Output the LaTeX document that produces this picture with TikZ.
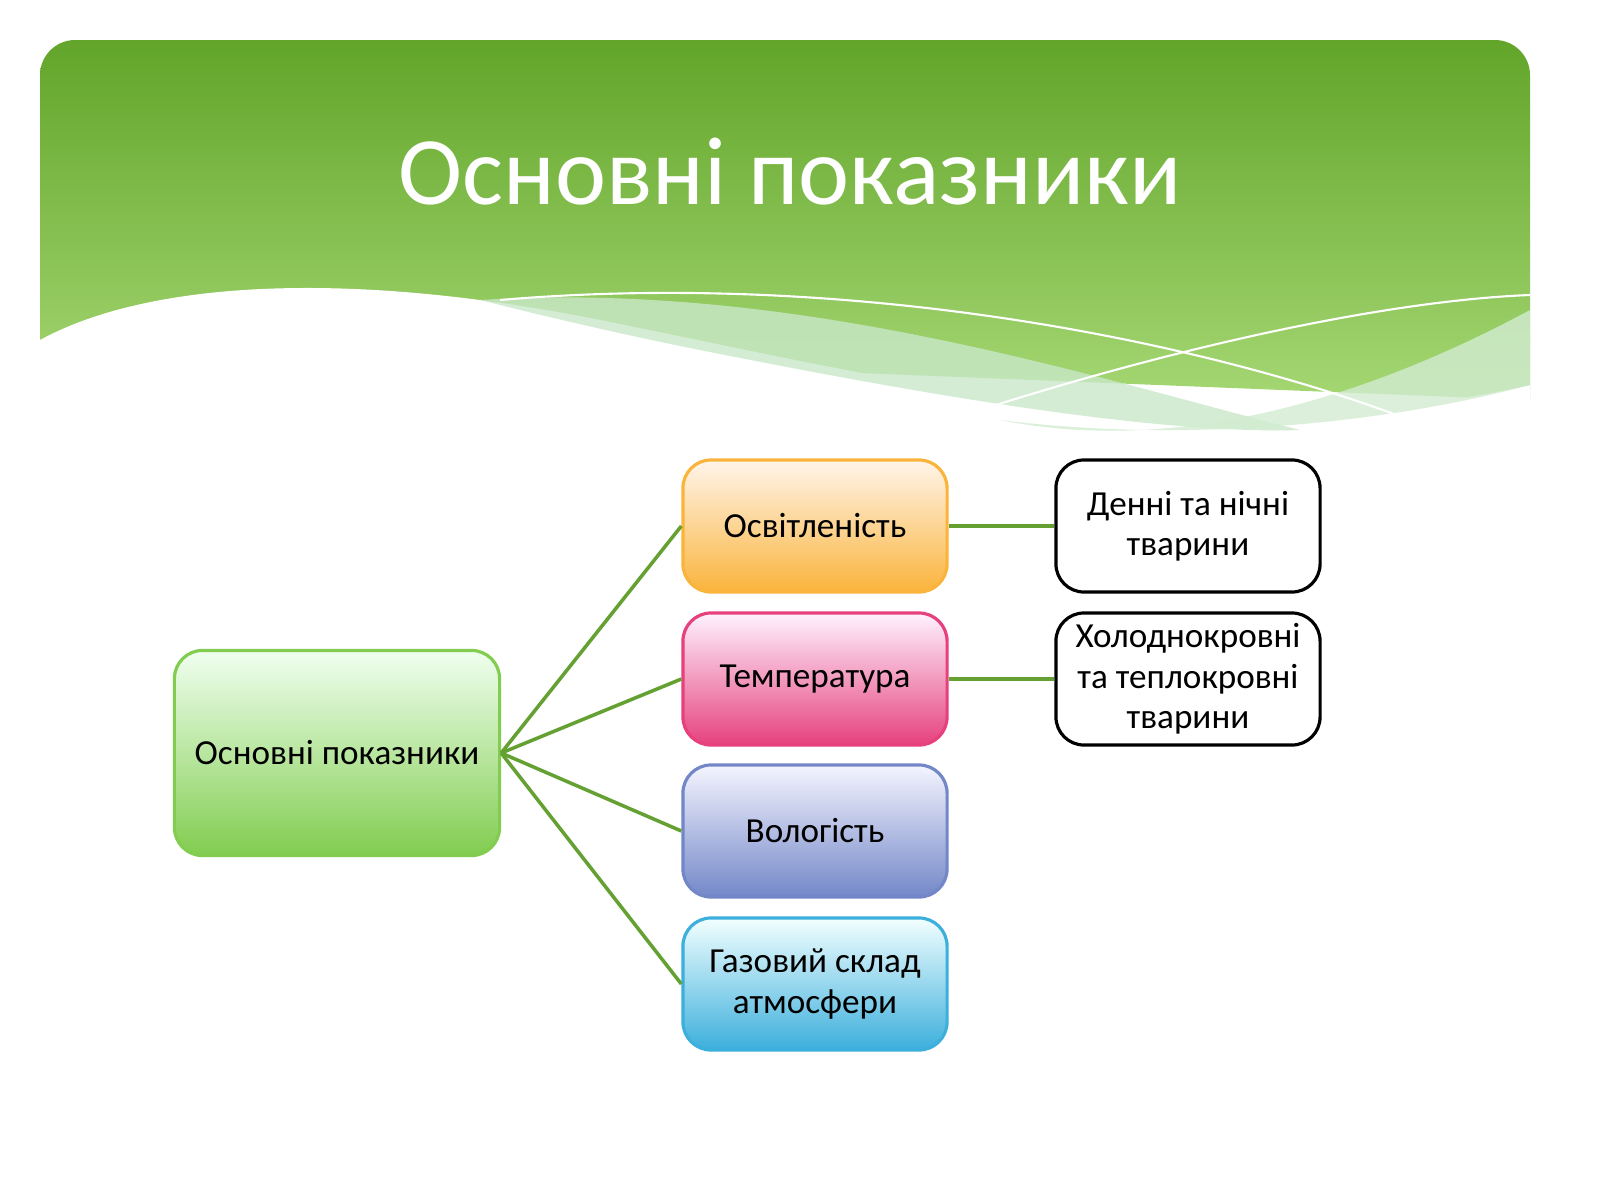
\documentclass[tikz,border=0pt]{standalone}
\usepackage{fontspec}
\setmainfont{Carlito}
\definecolor{hdtop}{RGB}{98,165,42}
\definecolor{hdbot}{RGB}{165,215,115}
\definecolor{ln}{RGB}{100,160,50}
\definecolor{orb}{RGB}{250,180,60}
\definecolor{mgb}{RGB}{230,65,125}
\definecolor{blb}{RGB}{115,135,200}
\definecolor{cyb}{RGB}{60,175,220}
\definecolor{grb}{RGB}{130,205,80}
\begin{document}
\begin{tikzpicture}[x=0.01cm,y=-0.01cm,
  bx/.style={rounded corners=8pt,line width=0.9pt,align=center,font=\fontsize{10pt}{11.5pt}\selectfont,inner sep=0pt,minimum width=2.64cm,minimum height=1.32cm},
  cn/.style={draw=ln,line width=1pt}]
\useasboundingbox (0,0) rectangle (1600,1200);
\fill[white] (0,0) rectangle (1600,1200);
% header
\shade[top color=hdtop, bottom color=hdbot]
  [rounded corners=10pt] (40,340) -- (40,40) -- (1530,40) [sharp corners]-- (1530,400) -- cycle;
\fill[white] (40,340) .. controls (150,280) and (350,270) .. (600,320)
  .. controls (900,380) and (1200,460) .. (1530,385) -- (1530,1200) -- (40,1200) -- cycle;
\fill[green!40!gray!30!white,opacity=0.8] (480,300) .. controls (800,280) and (1100,380) .. (1300,430)
  .. controls (1150,435) and (900,390) .. (700,350) .. controls (600,330) and (520,310) .. (480,300) -- cycle;
\fill[green!40!gray!25!white,opacity=0.8] (1000,420) .. controls (1200,460) and (1400,380) .. (1530,310) -- (1530,385) .. controls (1400,420) and (1200,445) .. (1000,420) -- cycle;
\draw[white,line width=0.6pt] (500,300) .. controls (850,270) and (1200,340) .. (1410,420);
\draw[white,line width=0.6pt] (980,410) .. controls (1200,340) and (1400,300) .. (1530,295);
\node[white,font=\fontsize{27.5pt}{30pt}\selectfont] (title) at (790,172) {Основні показники};
% boxes
\node[bx,draw=grb,top color=green!6!white,bottom color=grb,minimum width=3.25cm,minimum height=2.05cm] (main) at (337,753) {Основні показники};
\node[bx,draw=orb,top color=orange!8!white,bottom color=orb] (a) at (815,526) {Освітленість};
\node[bx,draw=mgb,top color=magenta!5!white,bottom color=mgb] (b) at (815,679) {Температура};
\node[bx,draw=blb,top color=blue!4!white,bottom color=blb] (c) at (815,831) {Вологість};
\node[bx,draw=cyb,top color=cyan!5!white,bottom color=cyb] (d) at (815,984) {Газовий склад\\атмосфери};
\node[bx,draw=black,fill=white] (e) at (1188,526) {Денні та нічні\\тварини};
\node[bx,draw=black,fill=white] (f) at (1188,679) {Холоднокровні\\та теплокровні\\тварини};
% connectors
\foreach \t in {a,b,c,d} \draw[cn] (main.east) -- (\t.west);
\draw[cn] (a.east) -- (e.west);
\draw[cn] (b.east) -- (f.west);
\end{tikzpicture}
\end{document}
